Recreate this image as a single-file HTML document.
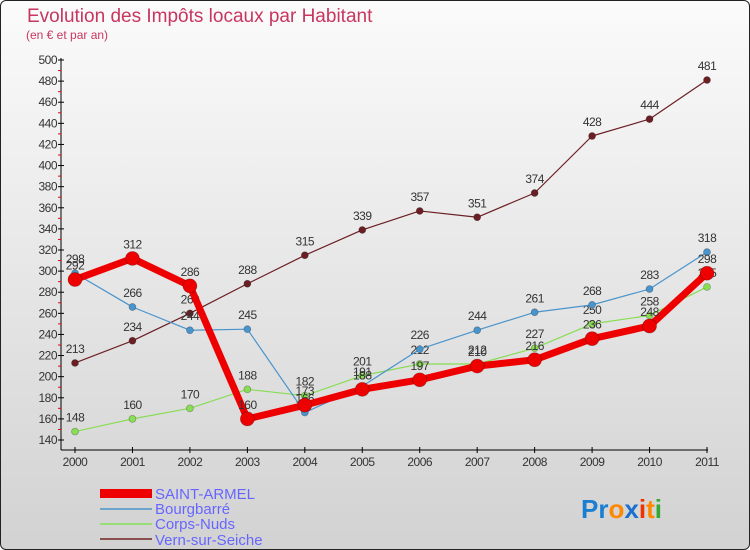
<!DOCTYPE html>
<html><head><meta charset="utf-8"><style>
body{margin:0;width:750px;height:550px;overflow:hidden;font-family:"Liberation Sans",sans-serif}
#wrap{position:absolute;left:0;top:0;width:748px;height:548px;border:1px solid #222;border-radius:6px;background:linear-gradient(#fbfbfb,#d2d2d2)}
</style></head><body>
<div id="wrap">
<svg id="chart" width="750" height="550" style="position:absolute;left:-1px;top:-1px">
<text x="27" y="22" font-size="19" fill="#c8365f">Evolution des Impôts locaux par Habitant</text>
<text x="26" y="39" font-size="12" fill="#c8365f">(en € et par an)</text>
<g id="axes"></g><g id="series"></g>
<g font-size="15" fill="#6666ff">
<rect x="100" y="489" width="52" height="9" fill="#ee0000"/>
<text x="155" y="499">SAINT-ARMEL</text>
<rect x="100" y="508" width="52" height="2" fill="#6da5cc"/>
<text x="155" y="514">Bourgbarré</text>
<rect x="100" y="523" width="52" height="2" fill="#99dd77"/>
<text x="155" y="529">Corps-Nuds</text>
<rect x="100" y="538" width="52" height="2" fill="#8a5050"/>
<text x="155" y="545">Vern-sur-Seiche</text>
</g>
<text x="581" y="518" font-size="26" font-weight="bold"><tspan fill="#1a7fd0">Pr</tspan><tspan fill="#ff8800">o</tspan><tspan fill="#1a6fd0">x</tspan><tspan fill="#ee3300">i</tspan><tspan fill="#ff8800">t</tspan><tspan fill="#33aa33">i</tspan></text>
</svg></div>
<script>
const years=[2000,2001,2002,2003,2004,2005,2006,2007,2008,2009,2010,2011];
const saintArmel=[292,312,286,160,173,188,197,210,216,236,248,298];
const bourgbarre=[298,266,244,245,166,191,226,244,261,268,283,318];
const corpsNuds=[148,160,170,188,182,201,212,212,227,250,258,285];
const vern=[213,234,260,288,315,339,357,351,374,428,444,481];
const yTicks=[140,160,180,200,220,240,260,280,300,320,340,360,380,400,420,440,460,480,500];
const NS="http://www.w3.org/2000/svg";
const x=i=>75+i*(707-75)/(years.length-1);
const y=v=>440-(v-140)*(380/360);
function mk(t,a,p){const e=document.createElementNS(NS,t);for(const k in a)e.setAttribute(k,a[k]);p.appendChild(e);return e;}
const ax=document.getElementById('axes');
const yl=mk('line',{x1:61,y1:58,x2:61,y2:450,stroke:'#000'},ax);


const xl=mk('line',{x1:61,y1:450,x2:708,y2:450,stroke:'#000'},ax);


yTicks.forEach(v=>{
 mk('line',{x1:58,x2:64,y1:y(v),y2:y(v),stroke:'#000'},ax);
 if(v<500)mk('line',{x1:58,x2:61,y1:y(v+10),y2:y(v+10),stroke:'#e00'},ax);
 const t=mk('text',{x:57,y:y(v)+4,'text-anchor':'end','font-size':12,fill:'#333','letter-spacing':'-0.5'},ax);
 t.textContent=v;
 
 
});
years.forEach((yr,i)=>{
 mk('line',{x1:x(i),x2:x(i),y1:447,y2:453,stroke:'#000'},ax);
 const t=mk('text',{x:x(i),y:466,'text-anchor':'middle','font-size':12,fill:'#333','letter-spacing':'-0.5'},ax);
 t.textContent=yr;
 
 
});
const sg=document.getElementById('series');
function draw(vals,color,w,r,name){
 const g=mk('g',{},sg);
 
 
 const pl=mk('polyline',{points:vals.map((v,i)=>x(i)+','+y(v)).join(' '),fill:'none',stroke:color,'stroke-width':w,'stroke-linejoin':'round'},g);
 
 
 vals.forEach((v,i)=>{
  const c=mk('circle',{cx:x(i),cy:y(v),r:r,fill:color,stroke:'rgba(0,0,0,0.3)','stroke-width':0.7},g);
  
  
  const t=mk('text',{x:x(i),y:y(v)-10,'text-anchor':'middle','font-size':12,fill:'#333','letter-spacing':'-0.5'},g);
  t.textContent=v;
  
  
 });
}
draw(vern,'#6b1f24',1.2,3.5,'vern-sur-seiche');
draw(corpsNuds,'#88dd55',1.2,3.5,'corps-nuds');
draw(bourgbarre,'#4a94cc',1.2,3.5,'bourgbarre');
draw(saintArmel,'#ee0000',7,7,'saint-armel');
</script>
</body></html>
